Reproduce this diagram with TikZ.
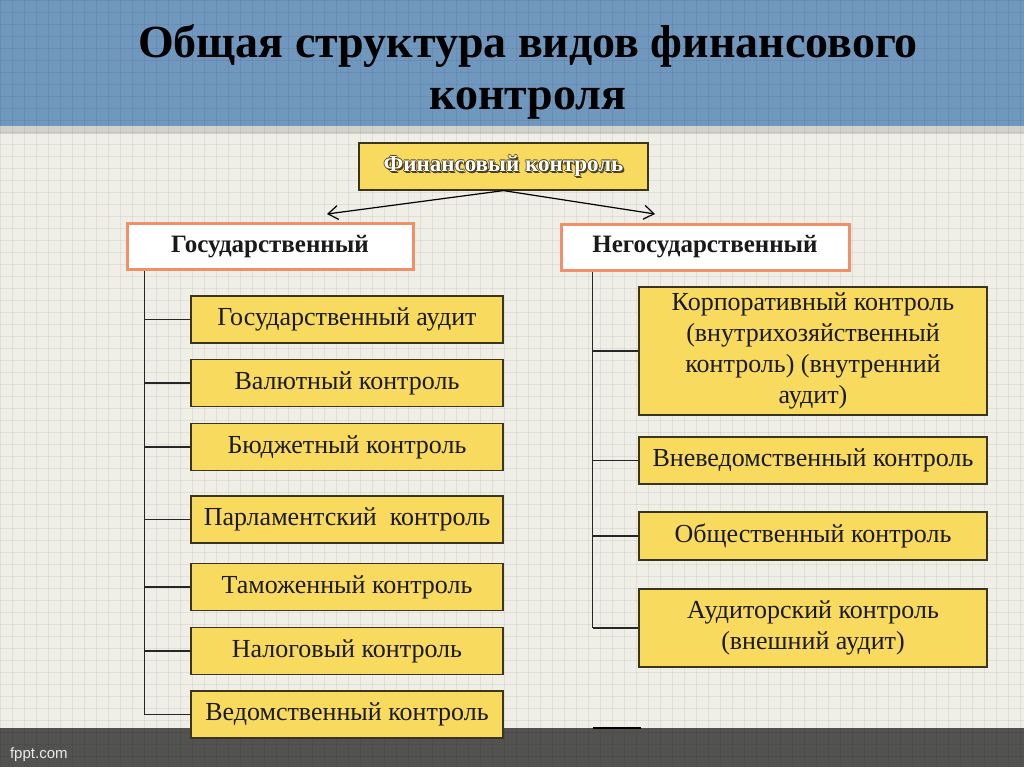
\documentclass[tikz,border=0pt]{standalone}
\usepackage{fontspec}
\setmainfont{Liberation Serif}
\newfontfamily\sansf{Liberation Sans}
\usetikzlibrary{arrows.meta,calc}
\definecolor{bgc}{HTML}{EFEEE7}
\definecolor{bandc}{HTML}{7097BD}
\definecolor{stripc}{HTML}{D2D2CC}
\definecolor{footc}{HTML}{525350}
\definecolor{yel}{HTML}{F8DA5E}
\definecolor{boxline}{HTML}{3A3520}
\definecolor{salmon}{HTML}{F0906A}
\definecolor{shadowc}{HTML}{4A3E1E}
\definecolor{txt}{HTML}{1A1A1A}
\newcommand\embossed[1]{\leavevmode
  \rlap{\textcolor{shadowc}{\hspace*{0.8pt}\raisebox{-0.8pt}{#1}}}%
  \rlap{\textcolor{shadowc}{\hspace*{-0.4pt}#1}}%
  \rlap{\textcolor{shadowc}{\hspace*{0.4pt}#1}}%
  \rlap{\textcolor{shadowc}{\raisebox{0.4pt}{#1}}}%
  \rlap{\textcolor{shadowc}{\raisebox{-0.4pt}{#1}}}%
  \textcolor{white}{#1}}
\tikzset{
  ybox/.style={draw=boxline, line width=0.6pt, fill=yel, text=txt, align=center,
    font=\fontsize{13}{15.5}\selectfont, inner sep=2pt},
  gbox/.style={ybox, minimum width=156pt, minimum height=23.5pt},
  nbox/.style={ybox, minimum width=174pt},
  headbox/.style={draw=salmon, line width=1.5pt, fill=white, text=txt,
    font=\bfseries\fontsize{12.5}{15}\selectfont, minimum height=23pt},
  conn/.style={draw=black!85, line width=0.7pt},
  arr/.style={draw=black, line width=0.6pt, -{Straight Barb[length=5pt,width=7pt]}}
}
\begin{document}
\begin{tikzpicture}[x=0.5pt,y=-0.5pt]
\useasboundingbox (0,0) rectangle (1024,767);
% backgrounds
\fill[bgc] (0,0) rectangle (1024,767);
\fill[bandc] (0,0) rectangle (1024,126);
\fill[stripc] (0,126) rectangle (1024,134);
\fill[footc] (0,728) rectangle (1024,767);
\foreach \x in {0,12,...,1024} \draw[black, opacity=0.06, line width=0.4pt] (\x,0) -- (\x,767);
\foreach \y in {0,12,...,767} \draw[black, opacity=0.06, line width=0.4pt] (0,\y) -- (1024,\y);
% title
\node[font=\bfseries\fontsize{23}{25}\selectfont, align=center, text=black] (title) at (528,72)
  {Общая структура видов финансового\\[1pt]контроля};
\node[font=\sansf\fontsize{7.5}{9}\selectfont, text=white!92!black, anchor=west] (brand) at (3,755) {fppt.com};
% top box
\node[draw=boxline, line width=0.6pt, fill=yel, minimum width=144.5pt, minimum height=23.5pt,
  font=\bfseries\fontsize{11.5}{13}\selectfont] (fin) at (503.5,166.5) {\embossed{Финансовый контроль}};
% heads
\node[headbox, minimum width=143pt] (gos) at (270,246.5) {Государственный};
\node[headbox, minimum width=144pt] (negos) at (705,247) {Негосударственный};
\coordinate (ga) at (327,214);
\coordinate (na) at (655,214);
\draw[arr] (fin.south) -- (ga);
\draw[arr] (fin.south) -- (na);
% left column
\node[gbox] (g1) at (347,319.5) {Государственный аудит};
\node[gbox] (g2) at (347,383) {Валютный контроль};
\node[gbox] (g3) at (347,447) {Бюджетный контроль};
\node[gbox] (g4) at (347,519.5) {Парламентский\ \ контроль};
\node[gbox] (g5) at (347,587) {Таможенный контроль};
\node[gbox] (g6) at (347,651) {Налоговый контроль};
\node[gbox] (g7) at (347,714.5) {Ведомственный контроль};
% right column
\node[nbox, minimum height=64pt] (n1) at (813,351) {Корпоративный контроль\\(внутрихозяйственный\\контроль) (внутренний\\аудит)};
\node[nbox, minimum height=23.5pt] (n2) at (813,460.5) {Вневедомственный контроль};
\node[nbox, minimum height=24pt] (n3) at (813,536) {Общественный контроль};
\node[nbox, minimum height=39pt] (n4) at (813,628) {Аудиторский контроль\\(внешний аудит)};
% connectors
\coordinate (gl) at ($(gos.south west)+(19,0)$);
\draw[conn] (gl) -- (gl |- g7.west);
\foreach \n in {g1,g2,g3,g4,g5,g6,g7} \draw[conn] (gl |- \n.west) -- (\n.west);
\coordinate (nl) at ($(negos.south west)+(33,0)$);
\draw[conn] (nl) -- (nl |- n4.west);
\foreach \n in {n1,n2,n3,n4} \draw[conn] (nl |- \n.west) -- (\n.west);
\coordinate (s1) at (593,728);
\coordinate (s2) at (641,728);
\draw[black, line width=1pt] (s1) -- (s2);
\end{tikzpicture}
\end{document}
